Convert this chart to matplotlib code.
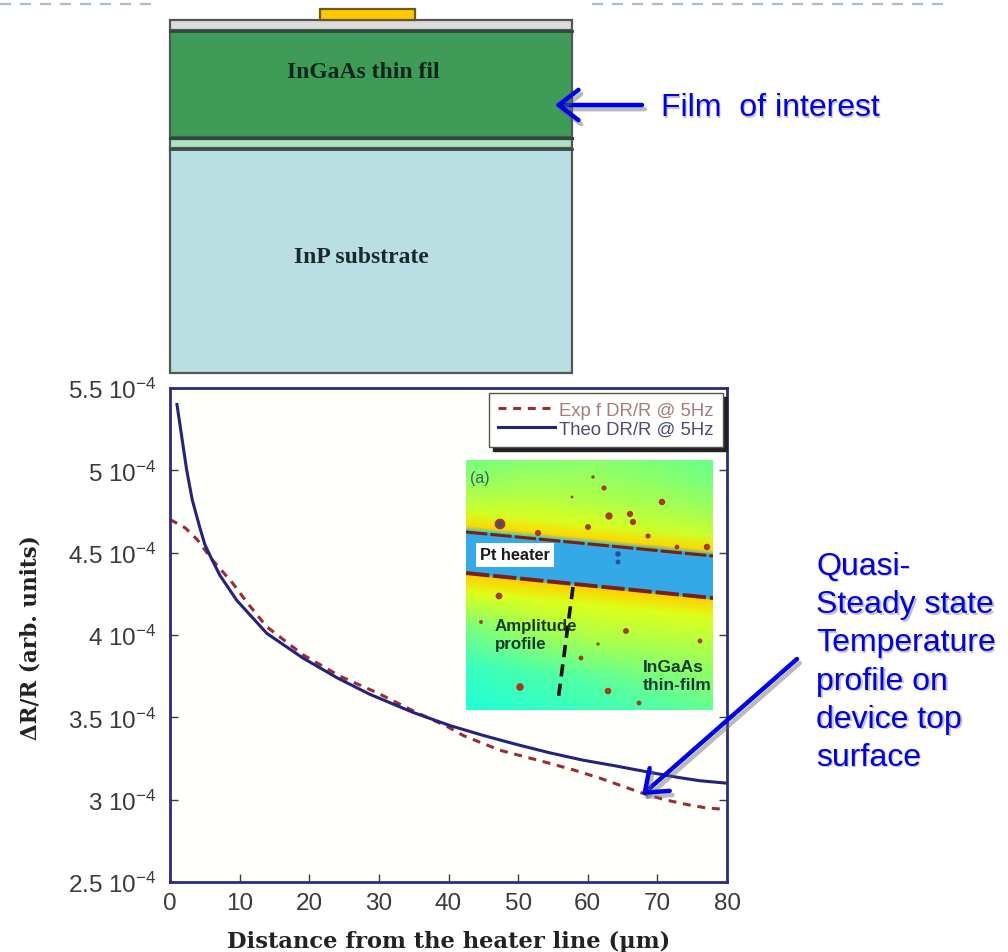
import numpy as np
import matplotlib
matplotlib.use("Agg")
import matplotlib.pyplot as plt
import matplotlib.patheffects as pe
from matplotlib.patches import Rectangle, Polygon

W, H = 1008, 953

# ---------- data ----------
theo_x = [1, 1.7, 2.4, 3.2, 4.3, 5, 6, 7.2, 9.6, 13.9, 19.1, 24, 28.7, 34.9, 40.2, 45, 49.8, 54.5, 59.3, 64, 69, 73, 76.1, 80]
theo_y = [5.40, 5.20, 5.00, 4.82, 4.65, 4.55, 4.46, 4.36, 4.21, 4.01, 3.86, 3.74, 3.64, 3.53, 3.45, 3.39, 3.335, 3.285, 3.24, 3.205, 3.165, 3.135, 3.115, 3.10]
exp_x = [0, 0.5, 2.2, 3.9, 6, 8.9, 11.2, 13.9, 19.1, 24.4, 29.7, 34.9, 40, 42.1, 47.4, 54.6, 58, 61.8, 67.8, 71, 74.3, 77, 80]
exp_y = [4.70, 4.69, 4.65, 4.58, 4.46, 4.32, 4.19, 4.05, 3.88, 3.75, 3.65, 3.54, 3.44, 3.39, 3.30, 3.22, 3.18, 3.13, 3.04, 3.00, 2.97, 2.95, 2.94]
x_ticks = [0, 10, 20, 30, 40, 50, 60, 70, 80]
y_ticks = [2.5, 3, 3.5, 4, 4.5, 5, 5.5]
y_tick_labels = ["2.5 10$^{-4}$", "3 10$^{-4}$", "3.5 10$^{-4}$", "4 10$^{-4}$",
                 "4.5 10$^{-4}$", "5 10$^{-4}$", "5.5 10$^{-4}$"]
series_names = ["Exp f DR/R @ 5Hz", "Theo DR/R @ 5Hz"]

# layer stack of the device schematic: name, top, bottom, colour
layer_names = ["cap", "film", "buffer", "substrate"]
layer_tops = [21, 32, 140, 150]
layer_bottoms = [31, 138, 149, 374]
layer_colors = ["#dcdcdc", "#3e9b58", "#aee3c0", "#b9dfe2"]

# inset map: false-colour levels along the slanted heater direction
map_levels = [-30, 0, 30, 52, 66, 72, 112, 116, 132, 165, 205, 250, 285]
map_field = [
    [0.47, 0.50, 0.50, 0.49, 0.47],
    [0.49, 0.52, 0.53, 0.52, 0.50],
    [0.55, 0.57, 0.57, 0.56, 0.55],
    [0.60, 0.61, 0.61, 0.60, 0.60],
    [0.68, 0.68, 0.68, 0.68, 0.68],
    [0.31, 0.31, 0.30, 0.28, 0.28],
    [0.27, 0.27, 0.27, 0.27, 0.27],
    [0.69, 0.69, 0.69, 0.69, 0.69],
    [0.62, 0.62, 0.62, 0.62, 0.62],
    [0.50, 0.54, 0.56, 0.56, 0.56],
    [0.42, 0.44, 0.46, 0.48, 0.50],
    [0.39, 0.40, 0.41, 0.42, 0.43],
    [0.38, 0.38, 0.38, 0.40, 0.40],
]
spots_x = [34, 138, 196, 143, 164, 167, 122, 182, 72, 241, 211, 33, 160, 234, 115, 54, 142, 173, 15, 132, 106, 127]
spots_y = [64, 28, 42, 56, 54, 62, 67, 76, 73, 87, 87, 136, 171, 181, 198, 227, 231, 243, 162, 184, 37, 17]
spots_s = [60, 14, 22, 28, 20, 20, 18, 14, 20, 22, 12, 24, 18, 12, 12, 30, 22, 12, 8, 6, 4, 6]

# ---------- figure ----------
plt.rcParams["font.family"] = ["Liberation Sans", "DejaVu Sans"]
plt.rcParams["mathtext.default"] = "regular"
fig = plt.figure(figsize=(W / 100, H / 100), dpi=100, facecolor="white")


def box(x0, y0, x1, y1):
    return [x0 / W, 1 - y1 / H, (x1 - x0) / W, (y1 - y0) / H]


NAVY = "#2b2b85"
DARK = "#3a3a3a"

# ---------- main chart ----------
ax = fig.add_axes(box(170, 389, 727, 883), zorder=1, facecolor="#fffffb")
ax.plot(exp_x, exp_y, color="#9a2c35", ls=(0, (2.6, 2.2)), lw=2.2, label=series_names[0])
ax.plot(theo_x, theo_y, color="#23237f", lw=2.2, label=series_names[1])
ax.set_xlim(0, 80)
ax.set_ylim(2.5, 5.5)
ax.set_xticks(x_ticks)
ax.set_yticks(y_ticks)
ax.set_yticklabels(y_tick_labels)
ax.tick_params(axis="both", direction="in", length=6, width=1, color=DARK,
               labelcolor=DARK, labelsize=17.5, right=True)
ax.tick_params(axis="x", pad=7)
ax.tick_params(axis="y", pad=10)
for s in ax.spines.values():
    s.set_color(NAVY)
    s.set_linewidth(2)
ax.set_xlabel("Distance from the heater line (\u00b5m)", family="DejaVu Serif",
              weight="bold", fontsize=16.3, color="#222222", labelpad=12)
ax.set_ylabel("\u0394R/R (arb. units)", family="DejaVu Serif", weight="bold",
              fontsize=15.5, color="#222222")
ax.yaxis.set_label_coords(-0.23, 0.497, transform=ax.transAxes)
leg = ax.legend(loc="upper right", bbox_to_anchor=(0.9925, 0.9905), borderaxespad=0,
                fontsize=13.3, fancybox=False, framealpha=1, edgecolor="#555555",
                shadow={"color": "#222222", "alpha": 1, "ox": 3, "oy": -3},
                labelspacing=0.1, handlelength=3.1, handletextpad=0.2, borderpad=0.5)
leg.get_texts()[0].set_color("#a67b7b")
leg.get_texts()[1].set_color("#4b4b78")

# ---------- inset map ----------
inset = fig.add_axes(box(466, 461, 713, 711), zorder=2)
inset.set_xlim(0, 247)
inset.set_ylim(250, 0)
inset.axis("off")
col_x = np.linspace(0, 247, 5)
X, L = np.meshgrid(col_x, map_levels)
Y = L + X * 0.1
inset.pcolormesh(X, Y, np.array(map_field), cmap="jet", vmin=0, vmax=1,
                 shading="gouraud", zorder=1)
inset.add_patch(Polygon([(0, 72), (247, 97), (247, 137), (0, 112)], color="#35a9e6", zorder=2))
inset.plot([0, 247], [72, 96], color="#7a1f14", lw=2.2, ls=(0, (7, 1)), zorder=3)
inset.plot([0, 247], [113, 138], color="#7a1f14", lw=2.8, ls=(0, (6, 1)), zorder=3)
inset.scatter(spots_x, spots_y, s=spots_s, color="#a83a1c", edgecolors="none", zorder=3)
inset.scatter([34, 152, 152], [64, 94, 102], s=[14, 16, 12], color="#1f4fb8", edgecolors="none", zorder=4)
inset.plot([107, 92], [127, 241], color="#111111", lw=2.6, ls=(0, (3.4, 2)), zorder=4)
inset.text(4, 18, "(a)", fontsize=11.5, color="#336666", va="center", zorder=5)
inset.text(14, 95, "Pt heater", fontsize=11.8, weight="bold", color="#1a1a1a", va="center", zorder=5,
           bbox=dict(facecolor="white", edgecolor="none", pad=3))
inset.text(29, 175, "Amplitude\nprofile", fontsize=12.2, weight="bold", color="#1a3a30",
           va="center", linespacing=1.25, zorder=5)
inset.text(177, 216, "InGaAs\nthin-film", fontsize=12.5, weight="bold", color="#1a3a30",
           va="center", linespacing=1.25, zorder=5)

# ---------- overlay: schematic, header, call-outs ----------
ov = fig.add_axes([0, 0, 1, 1], zorder=3, facecolor="none")
ov.set_xlim(0, W)
ov.set_ylim(H, 0)
ov.axis("off")

ov.plot([0, 160], [5, 5], color="#a9bfd2", lw=1.6, ls=(0, (5, 4)))
ov.plot([592, 950], [5, 5], color="#a9bfd2", lw=1.6, ls=(0, (5, 4)))

for top, bottom, colour in zip(layer_tops, layer_bottoms, layer_colors):
    ov.add_patch(Rectangle((170, top), 402, bottom - top, facecolor=colour,
                           edgecolor="#555555", lw=1.6))
ov.plot([170, 572], [32, 32], color="#2d4a38", lw=2)
ov.plot([170, 572], [138.5, 138.5], color="#2d4a38", lw=2.2)
ov.plot([170, 572], [149.5, 149.5], color="#3c4a4a", lw=2)
ov.add_patch(Rectangle((320, 10), 95, 11, facecolor="#ffc800", edgecolor="#6b5a1a", lw=1.6))
ov.text(363, 72, "InGaAs thin fil", family="Liberation Serif", weight="bold",
        fontsize=17, color="#10261a", ha="center", va="center")
ov.text(361, 258, "InP substrate", family="Liberation Serif", weight="bold",
        fontsize=17, color="#1a2a2c", ha="center", va="center")

BLUE = "#0000ee"
shadow = [pe.SimpleLineShadow(offset=(2, -3), shadow_color="#666666", alpha=0.45), pe.Normal()]
arrow_style = "->,head_length=0.55,head_width=0.42"
for start, end in [((642, 106), (555, 106)), ((797, 660), (642, 796))]:
    ov.annotate("", xy=end, xytext=start,
                arrowprops=dict(arrowstyle=arrow_style, color=BLUE, lw=3.2, mutation_scale=26,
                                shrinkA=0, shrinkB=0, path_effects=shadow))

ctexts = [(661, 108, "Film  of interest")]
lines = ["Quasi-", "Steady state", "Temperature", "profile on", "device top", "surface"]
for i, line in enumerate(lines):
    ctexts.append((816, 567 + i * 38.2, line))
for tx, ty, s in ctexts:
    ov.text(tx + 1.5, ty + 1.5, s, fontsize=23, color="#aaaaaa", va="center", alpha=0.7)
    ov.text(tx, ty, s, fontsize=23, color=BLUE, va="center")

fig.savefig("out.png", dpi=100)
